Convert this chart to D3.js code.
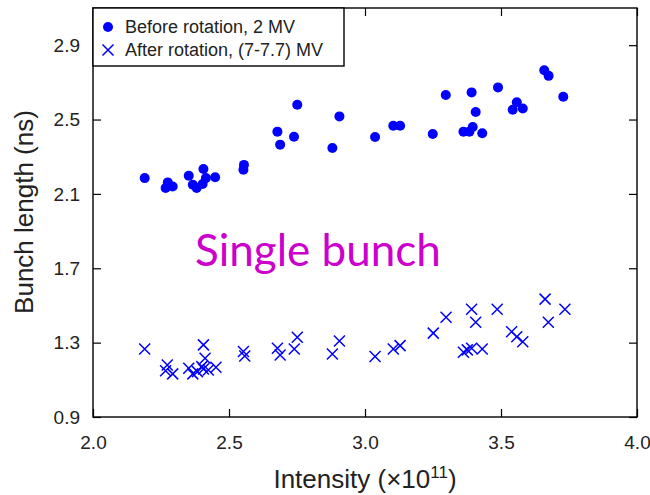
<!DOCTYPE html>
<html>
<head>
<meta charset="utf-8">
<script src="https://cdn.jsdelivr.net/npm/d3@7"></script>
<style>
    html, body { margin: 0; padding: 0; background: #fff; }
    svg { display: block; }
</style>
</head>
<body>
<div id="container"></div>
<script>
// intensity (x1e11) and bunch length (ns)
const beforeX = [2.19, 2.275, 2.267, 2.293, 2.352, 2.367, 2.381, 2.406, 2.415, 2.403, 2.449,
    2.555, 2.553, 2.678, 2.688, 2.751, 2.739, 2.906, 2.88, 3.037, 3.104, 3.129, 3.249, 3.297,
    3.362, 3.384, 3.396, 3.392, 3.407, 3.431, 3.489, 3.543, 3.558, 3.58, 3.659, 3.675, 3.729];
const beforeY = [2.185, 2.162, 2.132, 2.14, 2.198, 2.149, 2.132, 2.234, 2.185, 2.153, 2.19,
    2.256, 2.23, 2.435, 2.365, 2.58, 2.407, 2.517, 2.347, 2.406, 2.467, 2.467, 2.422, 2.632,
    2.435, 2.435, 2.46, 2.646, 2.541, 2.426, 2.673, 2.553, 2.593, 2.559, 2.765, 2.735, 2.623];

const afterX = [2.19, 2.273, 2.267, 2.293, 2.352, 2.367, 2.384, 2.406, 2.412, 2.4, 2.406, 2.424,
    2.452, 2.553, 2.558, 2.678, 2.688, 2.751, 2.74, 2.906, 2.88, 3.037, 3.104, 3.129, 3.251,
    3.298, 3.362, 3.376, 3.392, 3.392, 3.407, 3.431, 3.486, 3.539, 3.558, 3.58, 3.662, 3.674, 3.735];
const afterY = [1.266, 1.18, 1.149, 1.132, 1.162, 1.132, 1.144, 1.288, 1.216, 1.171, 1.158, 1.153,
    1.168, 1.252, 1.228, 1.27, 1.234, 1.329, 1.266, 1.309, 1.239, 1.225, 1.266, 1.284, 1.351,
    1.437, 1.248, 1.261, 1.27, 1.48, 1.41, 1.266, 1.48, 1.359, 1.332, 1.305, 1.534, 1.41, 1.48];

const xTicks = [2.0, 2.5, 3.0, 3.5, 4.0];
const yTicks = [0.9, 1.3, 1.7, 2.1, 2.5, 2.9];
const legendLabels = ["Before rotation, 2 MV", "After rotation, (7-7.7) MV"];

const width = 650, height = 495;
const margin = {top: 8, right: 13, bottom: 78, left: 93};
const blue = "#0000ff";
const font = "'Liberation Sans', Arial, sans-serif";

const x = d3.scaleLinear().domain([2.0, 4.0]).range([margin.left, width - margin.right]);
const y = d3.scaleLinear().domain([0.9, 3.1]).range([height - margin.bottom, margin.top]);

const svg = d3.select("div#container")
    .append("svg")
    .attr("width", width)
    .attr("height", height);

// axes with inward ticks, mirrored on the opposite sides
const styleAxis = g => {
    g.select(".domain").remove();
    g.selectAll(".tick line").attr("stroke", "#000").attr("stroke-width", 1.2);
    g.selectAll("text").attr("font-family", font).attr("font-size", 19).attr("fill", "#222");
};

svg.append("g")
    .attr("transform", `translate(0,${y.range()[0]})`)
    .call(d3.axisBottom(x).tickValues(xTicks).tickFormat(d3.format(".1f"))
        .tickSizeInner(-8).tickSizeOuter(0).tickPadding(19))
    .call(styleAxis);
svg.append("g")
    .attr("transform", `translate(0,${y.range()[1]})`)
    .call(d3.axisTop(x).tickValues(xTicks).tickFormat("")
        .tickSizeInner(-8).tickSizeOuter(0))
    .call(styleAxis);
svg.append("g")
    .attr("transform", `translate(${x.range()[0]},0)`)
    .call(d3.axisLeft(y).tickValues(yTicks).tickFormat(d3.format(".1f"))
        .tickSizeInner(-8).tickSizeOuter(0).tickPadding(13))
    .call(styleAxis);
svg.append("g")
    .attr("transform", `translate(${x.range()[1]},0)`)
    .call(d3.axisRight(y).tickValues(yTicks).tickFormat("")
        .tickSizeInner(-8).tickSizeOuter(0))
    .call(styleAxis);

svg.append("rect")
    .attr("x", x.range()[0])
    .attr("y", y.range()[1])
    .attr("width", x.range()[1] - x.range()[0])
    .attr("height", y.range()[0] - y.range()[1])
    .attr("fill", "none")
    .attr("stroke", "#000")
    .attr("stroke-width", 1.4);

const before = beforeX.map((d, i) => ({x: d, y: beforeY[i]}));
const after = afterX.map((d, i) => ({x: d, y: afterY[i]}));

svg.append("g")
    .attr("fill", blue)
    .selectAll()
    .data(before)
    .join("circle")
    .attr("cx", d => x(d.x))
    .attr("cy", d => y(d.y))
    .attr("r", 5);

const cross = "M-5.5,-5.5L5.5,5.5M-5.5,5.5L5.5,-5.5";
svg.append("g")
    .attr("stroke", blue)
    .attr("stroke-width", 1.5)
    .attr("fill", "none")
    .selectAll()
    .data(after)
    .join("path")
    .attr("transform", d => `translate(${x(d.x)},${y(d.y)})`)
    .attr("d", cross);

// legend
const legend = svg.append("g");
legend.append("rect")
    .attr("x", x.range()[0])
    .attr("y", y.range()[1])
    .attr("width", 251)
    .attr("height", 58)
    .attr("fill", "#fff")
    .attr("stroke", "#000")
    .attr("stroke-width", 1.4);
legend.append("circle")
    .attr("cx", 108).attr("cy", 27).attr("r", 5).attr("fill", blue);
legend.append("path")
    .attr("transform", "translate(108,50)")
    .attr("d", cross)
    .attr("stroke", blue).attr("stroke-width", 1.5);
legend.selectAll("text")
    .data(legendLabels)
    .join("text")
    .attr("x", 125)
    .attr("y", (d, i) => 33 + i * 23)
    .attr("font-family", font)
    .attr("font-size", 18)
    .attr("fill", "#222")
    .text(d => d);

// axis titles
svg.append("text")
    .attr("transform", "translate(33,212) rotate(-90)")
    .attr("text-anchor", "middle")
    .attr("font-family", font)
    .attr("font-size", 26)
    .attr("fill", "#222")
    .text("Bunch length (ns)");

const xTitle = svg.append("text")
    .attr("x", 365)
    .attr("y", 488)
    .attr("text-anchor", "middle")
    .attr("font-family", font)
    .attr("font-size", 26)
    .attr("fill", "#222");
xTitle.append("tspan").text("Intensity (\u00d710");
xTitle.append("tspan").attr("dy", -10).attr("font-size", 17).text("11");
xTitle.append("tspan").attr("dy", 10).text(")");

svg.append("text")
    .attr("x", 195)
    .attr("y", 266)
    .attr("font-family", "Lato, 'Open Sans', sans-serif")
    .attr("font-size", 44)
    .attr("fill", "#cc00cc")
    .text("Single bunch");
</script>
</body>
</html>
